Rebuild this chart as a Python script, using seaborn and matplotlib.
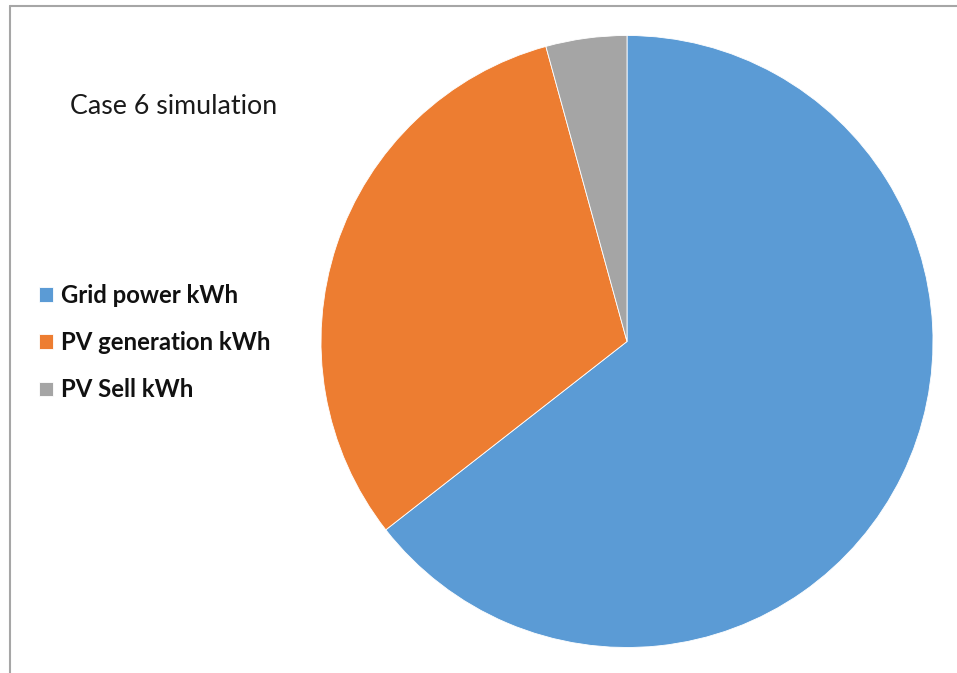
import matplotlib
matplotlib.use("Agg")
import matplotlib.pyplot as plt
from matplotlib.lines import Line2D
import seaborn as sns

# Energy breakdown for the case 6 run
labels = ["Grid power kWh", "PV generation kWh", "PV Sell kWh"]
values = [64.45, 31.28, 4.27]
colors = ["#5B9BD5", "#ED7D31", "#A5A5A5"]
title = "Case 6 simulation"

sns.set_theme(style="white")
plt.rcParams["font.family"] = ["Lato", "DejaVu Sans"]

W, H = 957, 673
fig = plt.figure(figsize=(W / 100, H / 100), dpi=100)
fig.patch.set_facecolor("white")

# pie axes: centre (627, 341.5) px, radius 306 px
cx, cy, r = 627, 341.5, 306
ax = fig.add_axes([(cx - r) / W, (H - cy - r) / H, 2 * r / W, 2 * r / H])
wedges, _ = ax.pie(values, colors=colors, startangle=90, counterclock=False,
                   radius=1.0, wedgeprops=dict(linewidth=0.6, edgecolor="white"))
ax.set_xlim(-1, 1)
ax.set_ylim(-1, 1)
ax.set_aspect("equal")
ax.axis("off")

fig.text(70 / W, 1 - 106 / H, title, fontsize=19.3, color="#1a1a1a",
         ha="left", va="center")

leg = fig.legend(wedges, labels, loc="center left",
                 bbox_to_anchor=(39 / W, 1 - 342.5 / H), frameon=False,
                 prop=dict(size=17.2, weight="bold"),
                 handlelength=0.58, handleheight=0.58, handletextpad=0.35,
                 labelspacing=1.02, borderpad=0, borderaxespad=0)
for t in leg.get_texts():
    t.set_color("#111111")

# chart-area frame lines (left and top)
fig.add_artist(Line2D([10 / W, 10 / W], [0, 1 - 6 / H], transform=fig.transFigure,
                      color="#a6a6a6", linewidth=1.5))
fig.add_artist(Line2D([10 / W, 1], [1 - 6 / H, 1 - 6 / H], transform=fig.transFigure,
                      color="#a6a6a6", linewidth=1.5))

fig.savefig("out.png", dpi=100)
